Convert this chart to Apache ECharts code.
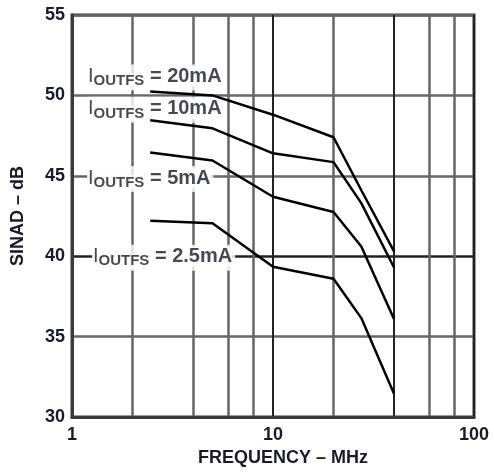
<!DOCTYPE html>
<html>
<head>
<meta charset="utf-8">
<script src="https://cdn.jsdelivr.net/npm/echarts@6/dist/echarts.min.js"></script>
<style>html,body{margin:0;padding:0;background:#fff}#c{width:494px;height:473px}</style>
</head>
<body>
<div id="c"></div>
<script>
// Frequency (MHz) points shared by all curves
var freqs = [2.45, 5, 10, 20, 27.5, 40];
// SINAD (dB) per full-scale output current
var sinad20 = [50.25, 50.0, 48.8, 47.4, 44.1, 40.3];
var sinad10 = [48.45, 47.95, 46.4, 45.85, 43.3, 39.3];
var sinad5 = [46.45, 45.95, 43.7, 42.75, 40.6, 36.1];
var sinad25 = [42.2, 42.05, 39.35, 38.6, 36.15, 31.45];
// Extra vertical grid lines (MHz)
var gridFreqs = [2, 4, 6, 8, 20, 40, 60, 80];
var darkGridFreqs = [40];
// Curve labels
var labelCurrent = ['20mA', '10mA', '5mA', '2.5mA'];
var labelFreq = [1.18, 1.18, 1.18, 1.25];
var labelDb = [51.12, 49.1, 44.8, 39.9];

var FONT = '"Liberation Sans", Arial, sans-serif';
var TXT = '#1a1a2a';

function pts(ys) { return freqs.map(function (f, i) { return [f, ys[i]]; }); }
function curve(name, ys) {
  return {
    name: name, type: 'line', data: pts(ys), symbol: 'none', z: 6,
    lineStyle: { color: '#000', width: 2.5 }, silent: true, animation: false
  };
}

var chart = echarts.init(document.getElementById('c'), null, { renderer: 'canvas' });
chart.setOption({
  animation: false,
  backgroundColor: '#fff',
  grid: { left: 72, right: 20, top: 15, bottom: 56, show: true, borderColor: '#3a3a3a', borderWidth: 3, containLabel: false },
  xAxis: {
    type: 'log', logBase: 10, min: 1, max: 100,
    name: 'FREQUENCY \u2013 MHz', nameLocation: 'middle', nameGap: 32,
    nameTextStyle: { fontFamily: FONT, fontWeight: 'bold', fontSize: 18, color: TXT, padding: [0, 0, 0, 20] },
    axisLine: { show: true, lineStyle: { color: '#3a3a3a', width: 3 } },
    axisTick: { show: false },
    axisLabel: { fontFamily: FONT, fontWeight: 'bold', fontSize: 18, color: TXT, margin: 9 },
    splitLine: { show: true, lineStyle: { color: '#222', width: 2 } }
  },
  yAxis: {
    type: 'value', min: 30, max: 55, interval: 5,
    name: 'SINAD \u2013 dB', nameLocation: 'middle', nameGap: 45, nameRotate: 90,
    nameTextStyle: { fontFamily: FONT, fontWeight: 'bold', fontSize: 18, color: TXT },
    axisLine: { show: true, lineStyle: { color: '#3a3a3a', width: 3 } },
    axisTick: { show: false },
    axisLabel: { fontFamily: FONT, fontWeight: 'bold', fontSize: 18, color: TXT, margin: 7 },
    splitLine: { show: true, lineStyle: { color: ['#666', '#666', '#222', '#666', '#666', '#666'], width: 2.5 } }
  },
  series: [
    {
      type: 'line', data: [], z: 0, silent: true,
      markLine: {
        silent: true, symbol: 'none', animation: false, z: 0,
        label: { show: false },
        data: gridFreqs.map(function (f) {
          var dark = darkGridFreqs.indexOf(f) >= 0;
          return { xAxis: f, lineStyle: { color: dark ? '#222' : '#666', width: dark ? 2 : 2.5, type: 'solid' } };
        })
      }
    },
    {
      type: 'scatter', z: 5, silent: true, symbolSize: 1,
      itemStyle: { color: 'rgba(0,0,0,0)' },
      data: labelCurrent.map(function (c, i) { return { value: [labelFreq[i], labelDb[i]], cur: c }; }),
      label: {
        show: true, position: 'right', distance: 0,
        backgroundColor: '#fff', padding: [2, 3, 2, 1],
        formatter: function (p) { return '{i|I}{s|OUTFS}{m| = ' + p.data.cur + '}'; },
        rich: {
          i: { fontFamily: FONT, fontSize: 20, color: TXT, lineHeight: 14, verticalAlign: 'top', backgroundColor: '#fff' },
          s: { fontFamily: FONT, fontSize: 15, fontWeight: 'bold', color: TXT, lineHeight: 22, verticalAlign: 'bottom', backgroundColor: '#fff' },
          m: { fontFamily: FONT, fontSize: 20, fontWeight: 'bold', color: TXT, lineHeight: 14, verticalAlign: 'top', backgroundColor: '#fff' }
        }
      }
    },
    curve('20mA', sinad20),
    curve('10mA', sinad10),
    curve('5mA', sinad5),
    curve('2.5mA', sinad25)
  ]
});
</script>
</body>
</html>
